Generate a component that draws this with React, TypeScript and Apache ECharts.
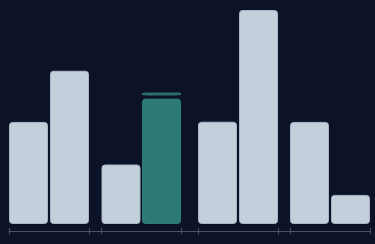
import React, { useEffect, useRef } from "react";
import * as echarts from "echarts";

// Positions of each bar along the horizontal value axis (axis units)
const barX = [19.5, 60.5, 112, 152.5, 208.5, 249.5, 300.5, 341.5];
const barValues = [47.7, 71.6, 27.8, 58.6, 47.8, 100, 47.7, 13.6];
const highlightIndex = 3;
const targetValue = [60.8];
const groupEdges = [0, 80, 92, 172, 189, 269, 281, 361];

export default function App() {
  const ref = useRef<HTMLDivElement>(null);
  useEffect(() => {
    if (!ref.current) return;
    const chart = echarts.init(ref.current, null, { renderer: "svg" });
    const barData = barValues.map((v, i) => ({
      value: [barX[i], v],
      itemStyle:
        i === highlightIndex
          ? { color: "#2c7b76", borderColor: "#2c7b76" }
          : undefined,
    }));
    chart.setOption({
      animation: false,
      backgroundColor: "#0c1228",
      grid: { left: 9, right: 5, top: 10, bottom: 20 },
      xAxis: [
        {
          type: "value",
          min: 0,
          max: 361,
          offset: 7,
          axisLine: { show: true, onZero: false, lineStyle: { color: "#4b5264", width: 1 } },
          axisTick: {
            show: true,
            customValues: groupEdges,
            length: 3,
            lineStyle: { color: "#4b5264" },
          },
          axisLabel: { show: false },
          splitLine: { show: false },
        },
        {
          type: "value",
          position: "bottom",
          min: 0,
          max: 361,
          offset: 7,
          axisLine: { show: false, onZero: false },
          axisTick: {
            show: true,
            inside: true,
            customValues: groupEdges,
            length: 3,
            lineStyle: { color: "#4b5264" },
          },
          axisLabel: { show: false },
          splitLine: { show: false },
        },
      ],
      yAxis: { type: "value", min: 0, max: 100, show: false },
      series: [
        {
          type: "bar",
          xAxisIndex: 0,
          barWidth: 39,
          data: barData,
          itemStyle: {
            color: "#c4cfdc",
            borderColor: "#aab5c5",
            borderWidth: 1,
            borderRadius: 3,
          },
        },
        {
          type: "scatter",
          xAxisIndex: 0,
          symbol: "roundRect",
          symbolSize: [39, 3],
          data: targetValue.map((v) => [barX[highlightIndex], v]),
          itemStyle: { color: "#2f8780" },
          z: 3,
        },
      ],
    });
    return () => chart.dispose();
  }, []);
  return (
    <div
      ref={ref}
      style={{ width: 375, height: 244, position: "absolute", left: 0, top: 0 }}
    />
  );
}
